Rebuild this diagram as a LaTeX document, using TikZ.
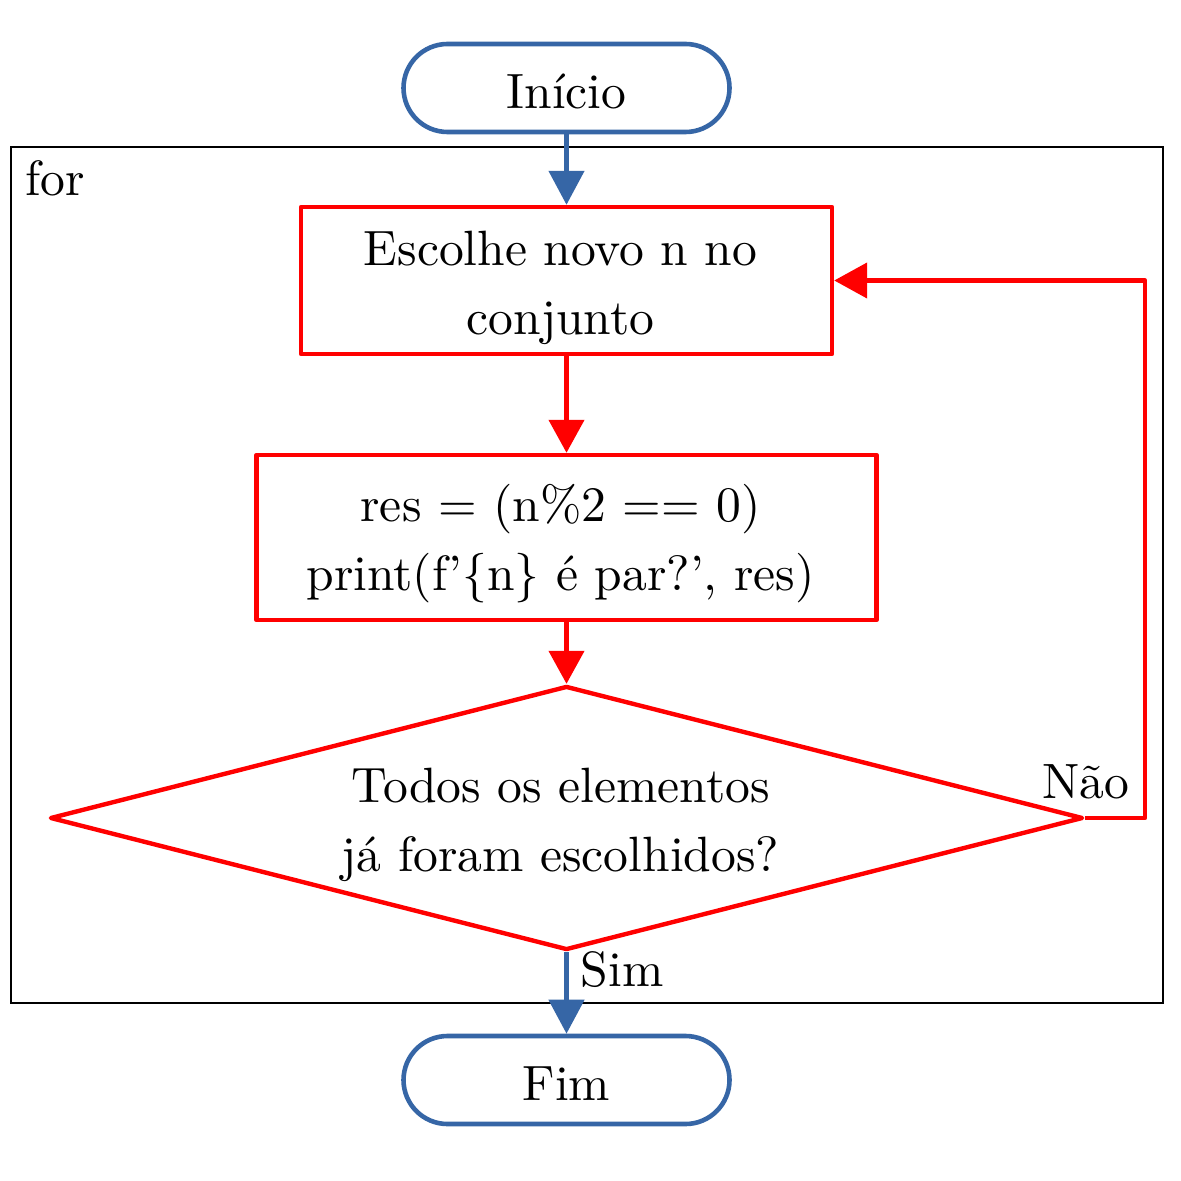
\documentclass[tikz,border=0pt]{standalone}
\usepackage{fontspec}
\setmainfont{lmroman10-regular.otf}
\usetikzlibrary{arrows.meta,shapes.geometric,calc}
\definecolor{flowblue}{RGB}{54,102,166}
\definecolor{flowred}{RGB}{255,0,0}
\newcommand{\firstline}{\rule{0pt}{24.5pt}}
\newcommand{\lnend}{\hspace*{6pt}}
\begin{document}
\begin{tikzpicture}[x=0.5pt,y=-0.5pt,
  every node/.style={font=\fontsize{24.8pt}{34.5pt}\selectfont, text=black},
  terminal/.style={draw=flowblue, line width=2.3pt, rectangle, rounded corners=22pt,
    minimum width=163pt, minimum height=44pt, inner sep=0pt, text height=20.5pt, text depth=0pt},
  procbox/.style={draw=flowred, line width=2.2pt, rectangle, align=center, inner sep=0pt, line join=round},
  decision/.style={draw=flowred, line width=2.2pt, diamond, aspect=3.9, align=center,
    minimum width=516.5pt, minimum height=132pt, inner sep=0pt, line join=round},
  frame/.style={draw=black, line width=1.05pt, rectangle, minimum width=576pt, minimum height=428pt, inner sep=0pt},
  bluearrow/.style={draw=flowblue, line width=2.3pt, -{Triangle[length=17pt,width=17.5pt]}},
  redarrow/.style={draw=flowred, line width=2.2pt, line join=round, -{Triangle[length=16.5pt,width=17.5pt]}},
  lbl/.style={inner sep=0pt}
]
\fill[white] (0,0) rectangle (1181,1181);
\useasboundingbox (0,0) rectangle (1181,1181);

\node[frame] (loopframe) at (587,575) {};
\node[lbl, anchor=base west] (forlbl) at (25,196) {for};

\node[terminal] (start) at (566.5,88) {Início};
\node[procbox, minimum width=265.5pt, minimum height=73.5pt] (choose) at (566.5,280.5)
  {\firstline Escolhe novo n no\lnend\\conjunto\lnend};
\node[procbox, minimum width=310pt, minimum height=82.5pt] (calc) at (566.5,537.5)
  {\firstline res = (n\%2 == 0)\lnend\\print(f'\{n\} é par?', res)\lnend};
\node[decision] (check) at (566.5,818) {\firstline Todos os elementos\lnend\\já foram escolhidos?\lnend};
\node[terminal] (finish) at (566.5,1080) {Fim};

\node[lbl, anchor=base] (nao) at (1086,798) {Não};
\node[lbl, anchor=base] (sim) at (622,986) {Sim};

\draw[bluearrow] (start.south) -- (choose.north);
\draw[redarrow] (choose.south) -- (calc.north);
\draw[redarrow] (calc.south) -- (check.north);
\coordinate (loopc) at (1145,818);
\draw[redarrow] (check.east) -- (loopc) |- (choose.east);
\draw[bluearrow] (check.south) -- (finish.north);
\end{tikzpicture}
\end{document}
